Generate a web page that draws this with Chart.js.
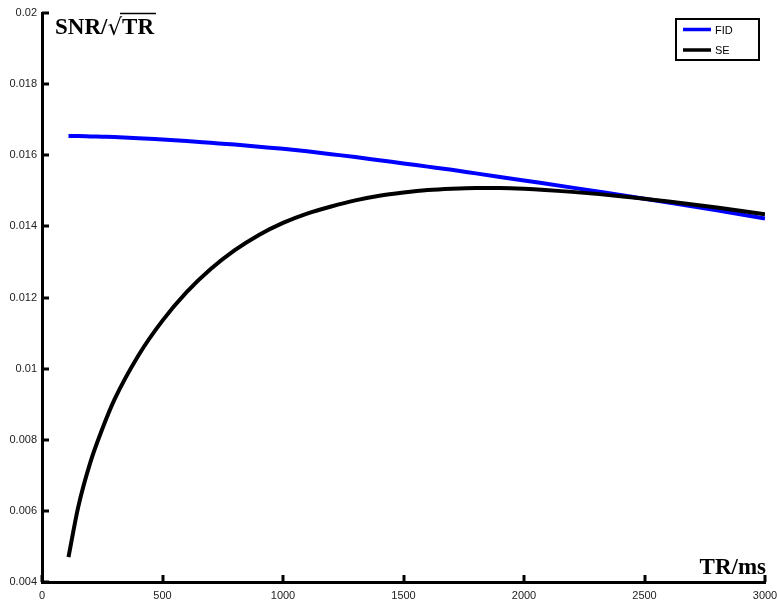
<!DOCTYPE html>
<html>
<head>
<meta charset="utf-8">
<script src="https://cdn.jsdelivr.net/npm/chart.js@4.4.0/dist/chart.umd.min.js"></script>
<style>
  html, body { margin: 0; padding: 0; background: #fff; }
  #wrap { width: 777px; height: 604px; }
</style>
</head>
<body>
<div id="wrap"><canvas id="snrChart" width="777" height="604"></canvas></div>
<script>
// repetition time (ms) and SNR per sqrt(TR)
const trValues = [110, 150, 200, 250, 300, 400, 500, 600, 700, 800, 900, 1000, 1100, 1200, 1300, 1400, 1500, 1600, 1700, 1800, 1900, 2000, 2200, 2400, 2600, 2800, 3000];
const fidValues = [0.01654, 0.01654, 0.01653, 0.01652, 0.01651, 0.01648, 0.01644, 0.0164, 0.01635, 0.0163, 0.01624, 0.01618, 0.01611, 0.01603, 0.01595, 0.01586, 0.01577, 0.01568, 0.01559, 0.01549, 0.01539, 0.01529, 0.01509, 0.01488, 0.01467, 0.01445, 0.01422];
const seValues = [0.0047, 0.0061, 0.00735, 0.0083, 0.00912, 0.01037, 0.01135, 0.01215, 0.0128, 0.01333, 0.01376, 0.0141, 0.01436, 0.01456, 0.01473, 0.01486, 0.01495, 0.01502, 0.01506, 0.01508, 0.01508, 0.01506, 0.01497, 0.01485, 0.0147, 0.01453, 0.01434];
const seriesNames = ['FID', 'SE'];
const seriesColors = ['#0000ff', '#000000'];
const xTickStep = 500;
const yTickStep = 0.002;

const toPoints = (ys) => trValues.map((x, i) => ({ x: x, y: ys[i] }));

// inward tick marks on the left and bottom axes
const innerTicks = {
    id: 'innerTicks',
    afterDraw(chart) {
        const ctx = chart.ctx;
        const area = chart.chartArea;
        const xs = chart.scales.x, ys = chart.scales.y;
        ctx.save();
        ctx.strokeStyle = '#000';
        ctx.lineWidth = 3;
        ys.ticks.forEach(t => {
            const py = Math.round(ys.getPixelForValue(t.value));
            ctx.beginPath();
            ctx.moveTo(area.left, py);
            ctx.lineTo(area.left + 7, py);
            ctx.stroke();
        });
        xs.ticks.forEach(t => {
            const px = Math.round(xs.getPixelForValue(t.value));
            ctx.beginPath();
            ctx.moveTo(px, area.bottom);
            ctx.lineTo(px, area.bottom - 7);
            ctx.stroke();
        });
        ctx.restore();
    }
};

// axis captions inside the plot and the boxed legend
const captions = {
    id: 'captions',
    afterDraw(chart) {
        const ctx = chart.ctx;
        ctx.save();
        ctx.fillStyle = '#000';
        ctx.textBaseline = 'alphabetic';
        ctx.font = 'bold 23px "Liberation Serif", "DejaVu Serif", serif';
        let x = 55;
        const base = 34;
        ctx.fillText('SNR/', x, base);
        x += ctx.measureText('SNR/').width;
        ctx.font = '23px "DejaVu Serif", serif';
        ctx.fillText('\u221A', x, base + 1);
        x += ctx.measureText('\u221A').width;
        ctx.font = 'bold 23px "Liberation Serif", "DejaVu Serif", serif';
        ctx.fillText('TR', x, base);
        const trW = ctx.measureText('TR').width;
        ctx.lineWidth = 1.5;
        ctx.strokeStyle = '#000';
        ctx.beginPath();
        ctx.moveTo(x - 2, 13.5);
        ctx.lineTo(x + trW + 2, 13.5);
        ctx.stroke();

        ctx.textAlign = 'right';
        ctx.fillText('TR/ms', 766, 574);

        // legend
        ctx.textAlign = 'left';
        ctx.lineWidth = 2;
        ctx.strokeRect(676, 19, 83, 41);
        ctx.font = '11px "Liberation Sans", Arial, sans-serif';
        ctx.textBaseline = 'middle';
        [29.5, 50].forEach((ly, i) => {
            ctx.strokeStyle = seriesColors[i];
            ctx.lineWidth = 3.5;
            ctx.beginPath();
            ctx.moveTo(683, ly);
            ctx.lineTo(711, ly);
            ctx.stroke();
            ctx.fillStyle = '#000';
            ctx.fillText(seriesNames[i], 715, ly + 1);
        });
        ctx.restore();
    }
};

new Chart(document.getElementById('snrChart'), {
    type: 'line',
    data: {
        datasets: [
            { label: seriesNames[0], data: toPoints(fidValues), borderColor: seriesColors[0], borderWidth: 4, order: 2 },
            { label: seriesNames[1], data: toPoints(seValues), borderColor: seriesColors[1], borderWidth: 4, order: 1 }
        ]
    },
    options: {
        responsive: false,
        animation: false,
        layout: { padding: { top: 13, right: 12, left: 0, bottom: 0 } },
        elements: {
            point: { radius: 0 },
            line: { cubicInterpolationMode: 'monotone', fill: false, borderCapStyle: 'butt' }
        },
        plugins: {
            legend: { display: false },
            tooltip: { enabled: false }
        },
        scales: {
            x: {
                type: 'linear',
                min: 0,
                max: 3000,
                afterFit: (s) => { s.height = 22; s.paddingRight = 0; s.paddingLeft = 0; },
                grid: { display: false, drawTicks: false },
                border: { display: true, color: '#000', width: 3 },
                ticks: {
                    stepSize: xTickStep,
                    padding: 7,
                    color: '#222',
                    maxRotation: 0,
                    font: { family: '"Liberation Sans", Arial, sans-serif', size: 11 },
                    callback: (v) => String(v)
                }
            },
            y: {
                min: 0.004,
                max: 0.02,
                afterFit: (s) => { s.width = 42; s.paddingTop = 0; s.paddingBottom = 0; },
                grid: { display: false, drawTicks: false },
                border: { display: true, color: '#000', width: 3 },
                ticks: {
                    stepSize: yTickStep,
                    padding: 5,
                    color: '#222',
                    font: { family: '"Liberation Sans", Arial, sans-serif', size: 11 },
                    callback: (v) => String(parseFloat(v.toFixed(3)))
                }
            }
        }
    },
    plugins: [innerTicks, captions]
});
</script>
</body>
</html>
